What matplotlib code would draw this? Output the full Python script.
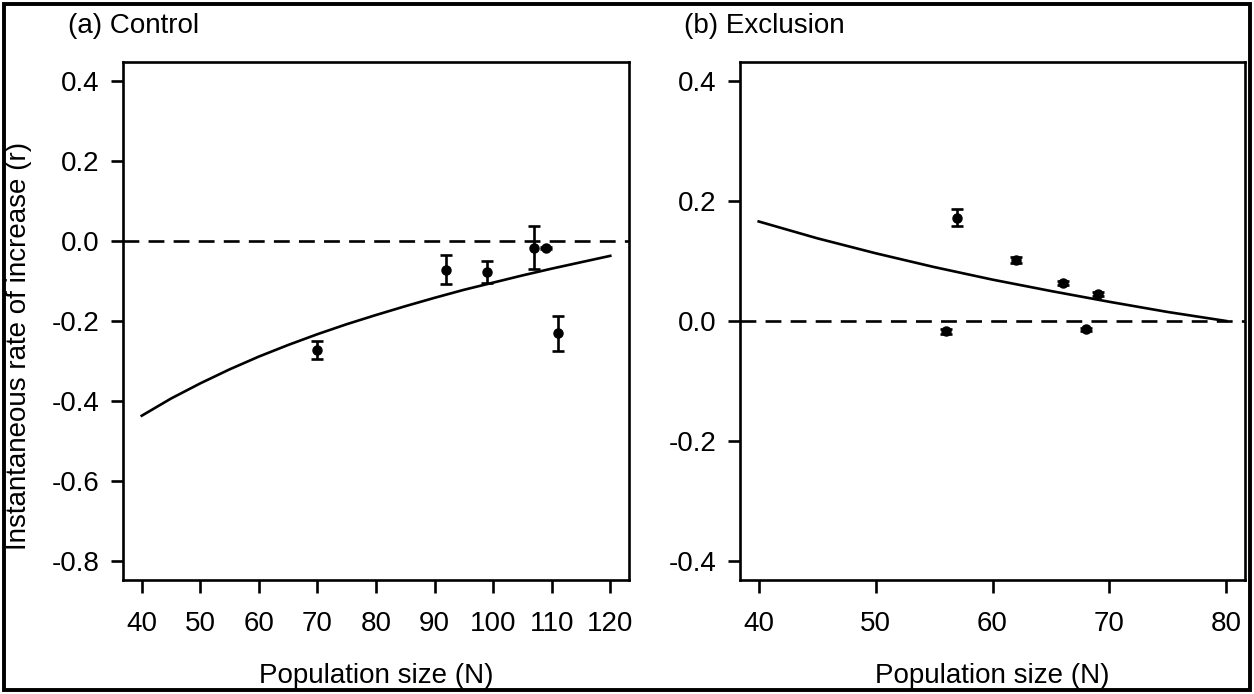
import matplotlib
matplotlib.use('Agg')
import matplotlib.pyplot as plt
from matplotlib.patches import Rectangle

plt.rcParams['font.family'] = ['Liberation Sans', 'DejaVu Sans']

# --- Control plots: population size vs instantaneous rate of increase ---
ctrl_N = [70, 92, 99, 107, 109, 111]
ctrl_r = [-0.272, -0.072, -0.077, -0.017, -0.018, -0.231]
ctrl_se = [0.023, 0.036, 0.027, 0.054, 0.003, 0.044]

# fitted density-dependence curve (control)
ctrl_fit_N = [40, 45, 50, 55, 60, 65, 70, 75, 80, 85, 90, 95, 100, 105, 110, 115, 120]
ctrl_fit_r = [-0.437, -0.394, -0.356, -0.321, -0.289, -0.260, -0.233, -0.208, -0.185,
              -0.163, -0.142, -0.122, -0.104, -0.086, -0.069, -0.053, -0.037]

# --- Exclusion plots ---
excl_N = [57, 62, 66, 69, 56, 68]
excl_r = [0.172, 0.102, 0.063, 0.045, -0.017, -0.014]
excl_se = [0.014, 0.005, 0.003, 0.003, 0.004, 0.003]

excl_fit_N = [40, 45, 50, 55, 60, 65, 70, 75, 80]
excl_fit_r = [0.166, 0.138, 0.113, 0.090, 0.069, 0.050, 0.032, 0.015, 0.000]

W, H = 1254, 694
fig = plt.figure(figsize=(W / 100, H / 100), dpi=100)

def px_axes(left, right, top, bottom):
    return fig.add_axes([left / W, 1 - bottom / H, (right - left) / W, (bottom - top) / H])

ax1 = px_axes(123, 629, 62, 580)
ax2 = px_axes(740, 1245, 62, 580)

FS = 20
LW = 1.9

def style(ax, xlim, ylim, xticks, yticks):
    ax.set_xlim(*xlim)
    ax.set_ylim(*ylim)
    ax.set_xticks(xticks)
    ax.set_yticks(yticks)
    ax.set_xticklabels([str(t) for t in xticks])
    ax.set_yticklabels(['%.1f' % t for t in yticks])
    for s in ax.spines.values():
        s.set_linewidth(LW)
    ax.tick_params(direction='out', length=9, width=LW, labelsize=FS, pad=13)
    ax.tick_params(axis='y', pad=8)

def panel(ax, N, r, se, fitN, fitr):
    ax.axhline(0, color='black', lw=LW, dashes=(6, 3.5))
    ax.plot(fitN, fitr, color='black', lw=LW)
    ax.errorbar(N, r, yerr=se, fmt='o', color='black', ms=6.5, elinewidth=LW,
                capsize=4.5, capthick=LW)

panel(ax1, ctrl_N, ctrl_r, ctrl_se, ctrl_fit_N, ctrl_fit_r)
style(ax1, (36.8, 123.2), (-0.848, 0.448), list(range(40, 121, 10)),
      [0.4, 0.2, 0.0, -0.2, -0.4, -0.6, -0.8])

panel(ax2, excl_N, excl_r, excl_se, excl_fit_N, excl_fit_r)
style(ax2, (38.4, 81.6), (-0.432, 0.432), [40, 50, 60, 70, 80],
      [0.4, 0.2, 0.0, -0.2, -0.4])

fig.text(68 / W, 1 - 33 / H, '(a) Control', fontsize=FS, va='baseline', ha='left')
fig.text(684 / W, 1 - 33 / H, '(b) Exclusion', fontsize=FS, va='baseline', ha='left')
fig.text(376 / W, 1 - 676 / H, 'Population size (N)', fontsize=FS, ha='center', va='center')
fig.text(992 / W, 1 - 676 / H, 'Population size (N)', fontsize=FS, ha='center', va='center')
fig.text(19 / W, 1 - 346 / H, 'Instantaneous rate of increase (r)', fontsize=FS,
         rotation=90, ha='center', va='center')

# outer frame around both panels
fig.patches.append(Rectangle((4 / W, 4 / H), 1 - 8 / W, 1 - 8 / H, transform=fig.transFigure,
                             fill=False, edgecolor='black', lw=2.8))

fig.savefig('out.png', dpi=100)
